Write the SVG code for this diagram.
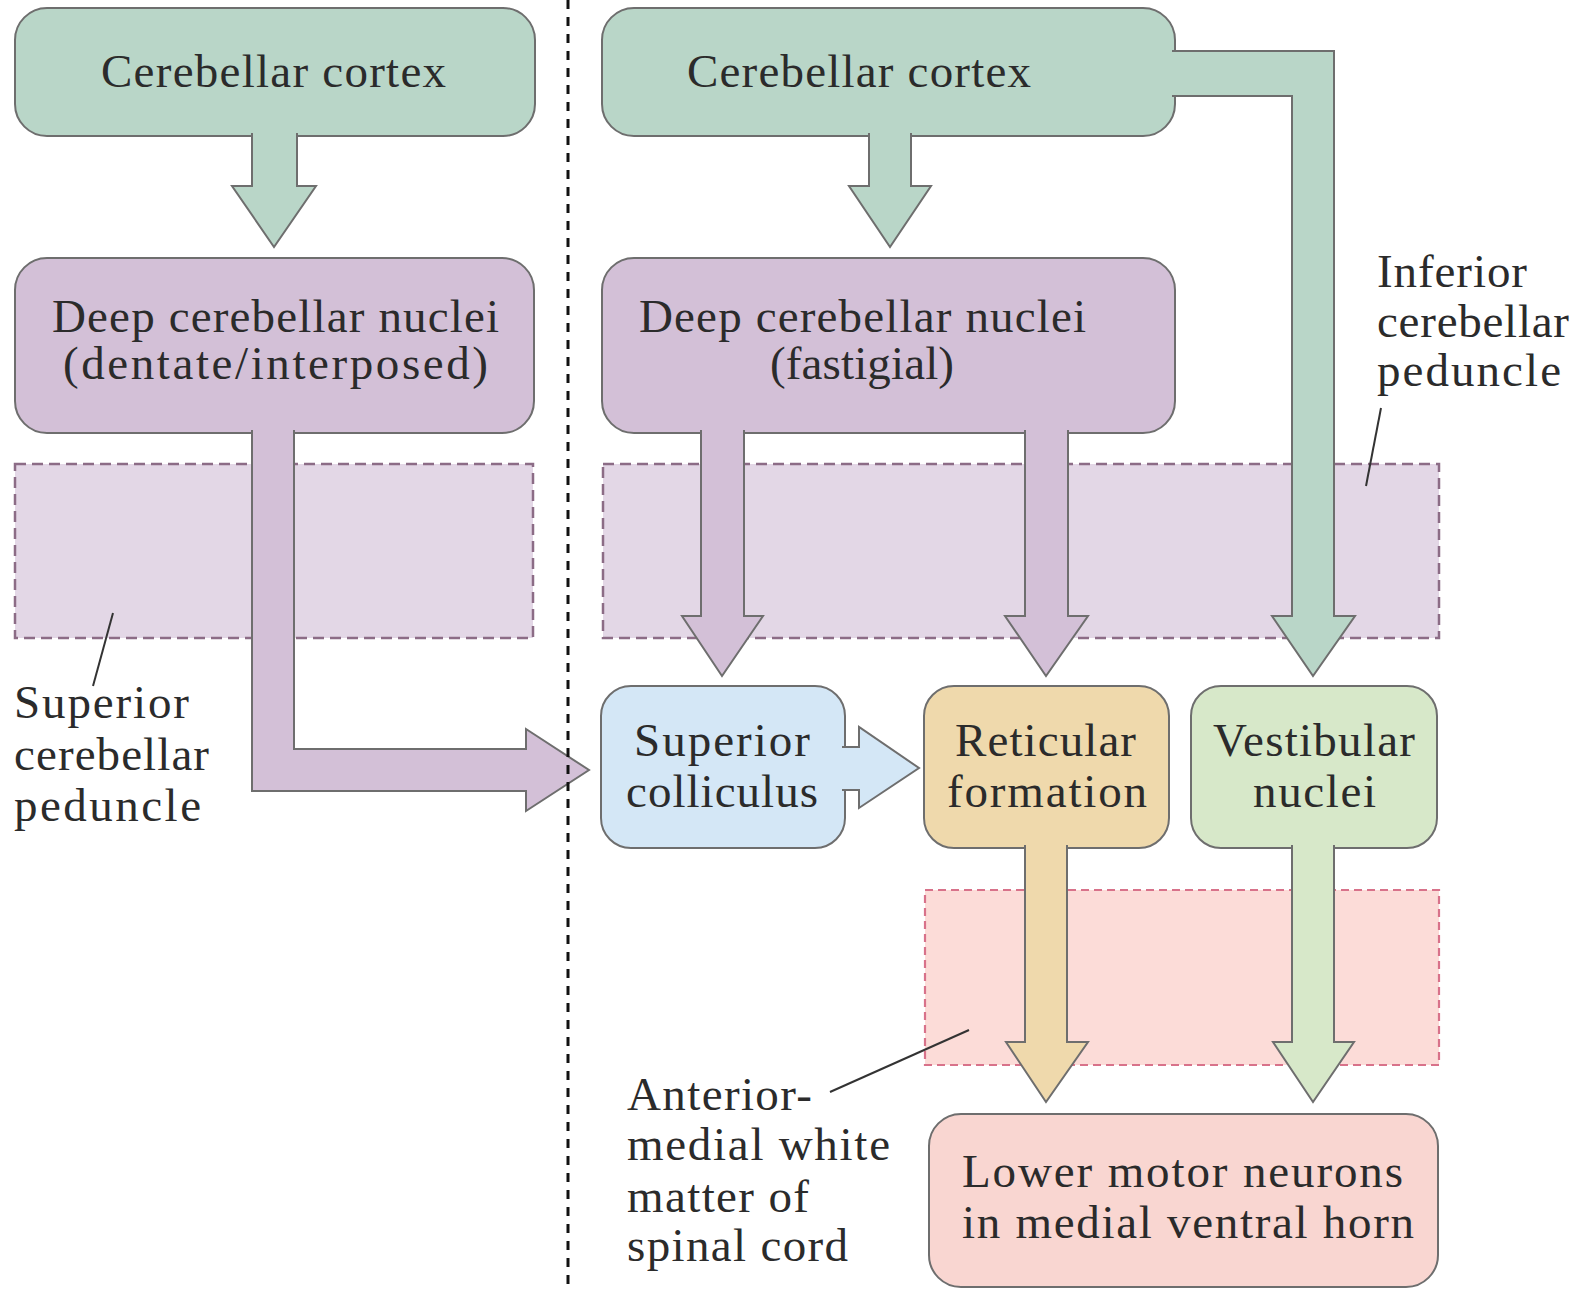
<svg xmlns="http://www.w3.org/2000/svg" width="1591" height="1290" viewBox="0 0 1591 1290">
<style>
.t{font-family:"Liberation Serif","Times New Roman",serif;font-size:47px;fill:#2b2b2b}
.box{stroke:#6e6e6e;stroke-width:2}
.arr{stroke:#6e6e6e;stroke-width:2;stroke-linejoin:miter}
.green{fill:#b9d6c8}
.purple{fill:#d3c0d7}
.blue{fill:#d4e7f6}
.tan{fill:#efd9ac}
.lgreen{fill:#d7e8c9}
.pink{fill:#f9d6d1}
.bandP{fill:#e3d7e6;stroke:#8c6c86;stroke-width:2.5;stroke-dasharray:11 6}
.bandR{fill:#fcdcd8;stroke:#d8728a;stroke-width:2.2;stroke-dasharray:8 5}
.lead{stroke:#333;stroke-width:2;fill:none}
</style>
<rect width="1591" height="1290" fill="#ffffff"/>
<g id="regions">
<rect id="band-superior-peduncle" class="bandP" x="15" y="464" width="518" height="174"/>
<rect id="band-inferior-peduncle" class="bandP" x="603" y="464" width="836" height="174"/>
<rect id="band-spinal" class="bandR" x="925" y="890" width="514" height="175"/>
</g>
<g id="node-cortex-left">
<rect class="box green" x="15" y="8" width="520" height="128" rx="32"/>
<text class="t" x="101" y="87" textLength="345" lengthAdjust="spacing">Cerebellar cortex</text>
</g>
<g id="node-deep-left">
<rect class="box purple" x="15" y="258" width="519" height="175" rx="32"/>
<text class="t" x="52" y="332" textLength="447" lengthAdjust="spacing">Deep cerebellar nuclei</text>
<text class="t" x="63" y="379" textLength="425" lengthAdjust="spacing">(dentate/interposed)</text>
</g>
<g id="node-cortex-right">
<rect class="box green" x="602" y="8" width="573" height="128" rx="32"/>
<text class="t" x="687" y="87" textLength="344" lengthAdjust="spacing">Cerebellar cortex</text>
</g>
<g id="node-deep-right">
<rect class="box purple" x="602" y="258" width="573" height="175" rx="32"/>
<text class="t" x="639" y="332" textLength="447" lengthAdjust="spacing">Deep cerebellar nuclei</text>
<text class="t" x="770" y="379" textLength="184" lengthAdjust="spacing">(fastigial)</text>
</g>
<g id="node-superior-colliculus">
<rect class="box blue" x="601" y="686" width="244" height="162" rx="30"/>
<text class="t" x="634" y="756" textLength="176" lengthAdjust="spacing">Superior</text>
<text class="t" x="626" y="807" textLength="192" lengthAdjust="spacing">colliculus</text>
</g>
<g id="node-reticular-formation">
<rect class="box tan" x="924" y="686" width="245" height="162" rx="30"/>
<text class="t" x="955" y="756" textLength="181" lengthAdjust="spacing">Reticular</text>
<text class="t" x="947" y="807" textLength="200" lengthAdjust="spacing">formation</text>
</g>
<g id="node-vestibular-nuclei">
<rect class="box lgreen" x="1191" y="686" width="246" height="162" rx="30"/>
<text class="t" x="1213" y="756" textLength="202" lengthAdjust="spacing">Vestibular</text>
<text class="t" x="1253" y="807" textLength="123" lengthAdjust="spacing">nuclei</text>
</g>
<g id="node-lower-motor-neurons">
<rect class="box pink" x="929" y="1114" width="509" height="173" rx="32"/>
<text class="t" x="962" y="1187" textLength="441" lengthAdjust="spacing">Lower motor neurons</text>
<text class="t" x="962" y="1238" textLength="452" lengthAdjust="spacing">in medial ventral horn</text>
</g>
<g id="connectors">
<path class="arr green" d="M252,133 L252,186 L232,186 L274,247 L316,186 L297,186 L297,133"/>
<path class="arr green" d="M869,133 L869,186 L849,186 L890,247 L931,186 L911,186 L911,133"/>
<path class="arr purple" d="M701,430 L701,616 L682,616 L722,676 L763,616 L744,616 L744,430"/>
<path class="arr purple" d="M1025,430 L1025,616 L1005,616 L1046,676 L1088,616 L1068,616 L1068,430"/>
<path class="arr green" d="M1172,51 L1334,51 L1334,616 L1355,616 L1313,676 L1272,616 L1292,616 L1292,96 L1172,96"/>
<path class="arr purple" d="M252,430 L252,791 L526,791 L526,811 L589,770 L526,729 L526,749 L294,749 L294,430"/>
<path class="arr blue" d="M842,747 L859,747 L859,727 L919,768 L859,808 L859,790 L842,790"/>
<path class="arr tan" d="M1025,845 L1025,1042 L1006,1042 L1046,1102 L1088,1042 L1067,1042 L1067,845"/>
<path class="arr lgreen" d="M1292,845 L1292,1042 L1273,1042 L1313,1102 L1354,1042 L1334,1042 L1334,845"/>
</g>
<g id="labels">
<line class="lead" x1="113" y1="613" x2="93" y2="686"/>
<text class="t" x="14" y="718" textLength="175" lengthAdjust="spacing">Superior</text>
<text class="t" x="14" y="770" textLength="195" lengthAdjust="spacing">cerebellar</text>
<text class="t" x="14" y="821" textLength="187" lengthAdjust="spacing">peduncle</text>
<line class="lead" x1="1381" y1="408" x2="1366" y2="486"/>
<text class="t" x="1377" y="287" textLength="150" lengthAdjust="spacing">Inferior</text>
<text class="t" x="1377" y="337" textLength="192" lengthAdjust="spacing">cerebellar</text>
<text class="t" x="1377" y="386" textLength="184" lengthAdjust="spacing">peduncle</text>
<line class="lead" x1="969" y1="1030" x2="830" y2="1092"/>
<text class="t" x="627" y="1110" textLength="185" lengthAdjust="spacing">Anterior-</text>
<text class="t" x="627" y="1160" textLength="263" lengthAdjust="spacing">medial white</text>
<text class="t" x="627" y="1212" textLength="182" lengthAdjust="spacing">matter of</text>
<text class="t" x="627" y="1261" textLength="221" lengthAdjust="spacing">spinal cord</text>
</g>
<line id="divider" x1="568" y1="0" x2="568" y2="1290" stroke="#111" stroke-width="3" stroke-dasharray="9 8"/>
</svg>
